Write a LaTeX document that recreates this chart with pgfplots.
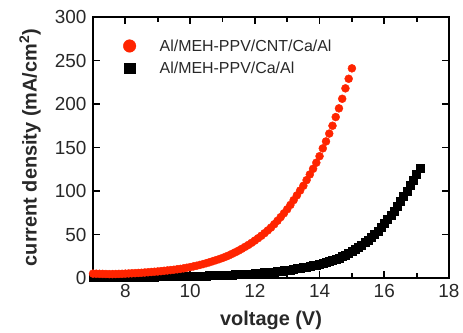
\documentclass[border=0pt]{standalone}
\usepackage{pgfplots}
\pgfplotsset{compat=1.18}
\usepackage{pgfplotstable}
\usepackage{fontspec}
\setmainfont{Liberation Sans}
\definecolor{myred}{RGB}{255,36,0}
\definecolor{txt}{RGB}{40,40,40}
\pgfplotstableread{
x y
7.0 5
7.1 4.9
7.2 4.8
7.3 4.7
7.4 4.6
7.5 4.5
7.6 4.5
7.7 4.6
7.8 4.7
7.9 4.8
8.0 5.0
8.1 5.2
8.2 5.4
8.3 5.6
8.4 5.8
8.5 6.0
8.6 6.3
8.7 6.6
8.8 6.9
8.9 7.2
9.0 7.5
9.1 7.9
9.2 8.3
9.3 8.7
9.4 9.1
9.5 9.5
9.6 10.0
9.7 10.5
9.8 11.1
9.9 11.8
10.0 12.5
10.1 13.3
10.2 14.1
10.3 15.0
10.4 16.0
10.5 17.0
10.6 18.1
10.7 19.3
10.8 20.5
10.9 21.7
11.0 23.0
11.1 24.5
11.2 26.0
11.3 27.8
11.4 29.6
11.5 31.5
11.6 33.6
11.7 35.8
11.8 38.0
11.9 40.4
12.0 43.0
12.1 45.7
12.2 48.5
12.3 51.5
12.4 54.7
12.5 58.0
12.6 61.8
12.7 65.8
12.8 70.0
12.9 74.4
13.0 79.0
13.1 84.0
13.2 89.5
13.3 95.0
13.4 100.5
13.5 106.0
13.6 112.5
13.7 119.0
13.8 125.5
13.9 132.5
14.0 140.0
14.1 149
14.2 157
14.3 166
14.4 175
14.5 185
14.6 195
14.7 206
14.8 218
14.9 229
15.0 241
}\redtable
\pgfplotstableread{
x y
7.0 0.5
7.1 0.5
7.2 0.6
7.3 0.6
7.4 0.7
7.5 0.7
7.6 0.8
7.7 0.8
7.8 0.9
7.9 0.9
8.0 1.0
8.1 1.0
8.2 1.1
8.3 1.1
8.4 1.2
8.5 1.2
8.6 1.3
8.7 1.3
8.8 1.4
8.9 1.4
9.0 1.5
9.1 1.5
9.2 1.6
9.3 1.6
9.4 1.7
9.5 1.8
9.6 1.8
9.7 1.9
9.8 2.0
9.9 2.0
10.0 2.1
10.1 2.2
10.2 2.3
10.3 2.4
10.4 2.5
10.5 2.6
10.6 2.7
10.7 2.8
10.8 2.9
10.9 3.0
11.0 3.2
11.1 3.4
11.2 3.6
11.3 3.7
11.4 3.9
11.5 4.1
11.6 4.3
11.7 4.5
11.8 4.7
11.9 4.9
12.0 5.2
12.1 5.5
12.2 5.8
12.3 6.1
12.4 6.4
12.5 6.8
12.6 7.2
12.7 7.6
12.8 8.0
12.9 8.5
13.0 9.0
13.1 9.5
13.2 10.1
13.3 10.7
13.4 11.3
13.5 12.0
13.6 12.7
13.7 13.5
13.8 14.3
13.9 15.2
14.0 16.2
14.1 17.2
14.2 18.2
14.3 19.3
14.4 20.5
14.5 21.8
14.6 23.2
14.7 24.8
14.8 26.6
14.9 28.6
15.0 30.8
15.1 33.1
15.2 35.5
15.3 38.0
15.4 40.6
15.5 43.4
15.6 46.5
15.7 49.8
15.8 53.4
15.9 58.0
16.0 63.0
16.1 67.5
16.2 72.0
16.3 77.0
16.4 82.3
16.5 88.0
16.6 94.0
16.7 100.0
16.8 106.3
16.9 112.6
17.0 119.0
17.1 126.0
}\blacktable
\begin{document}
\begin{tikzpicture}
\useasboundingbox (-93bp,-55bp) rectangle (370bp,278bp);
\begin{axis}[
  at={(0,0)}, anchor=south west,
  scale only axis, width=356bp, height=261bp,
  xmin=7, xmax=18, ymin=0, ymax=300,
  xtick={8,10,...,18}, minor xtick={9,11,...,17},
  ytick={0,50,...,300},
  tick align=inside,
  major tick length=7bp, minor tick length=5bp,
  every tick/.style={black, line width=1.8bp},
  axis line style={black, line width=2.6bp},
  /pgf/number format/assume math mode=true,
  tick label style={font=\fontsize{19}{22}\selectfont, text=txt},
  xticklabel style={yshift=-3bp},
  yticklabel style={xshift=-3bp},
  xlabel={\textbf{voltage (V)}},
  ylabel={\textbf{current density (mA/cm$^{\mathbf{2}}$)}},
  label style={font=\fontsize{20}{23}\selectfont, text=txt},
  xlabel style={at={(axis description cs:0.5,-0.161)}, anchor=center},
  ylabel style={at={(axis description cs:-0.177,0.5)}, anchor=center},
  legend image code/.code={\path (0cm,0cm) -- (1.29cm,0cm); \draw[#1] plot coordinates {(0.3cm,0cm)};},
  legend style={at={(0.07,0.93)}, anchor=north west, draw=none, fill=none,
    font=\fontsize{16}{19}\selectfont, text=txt, row sep=5bp},
  legend cell align=left,
]
\addlegendimage{mark=*, draw=none, myred, mark size=6.3bp}
\addlegendentry{Al/MEH-PPV/CNT/Ca/Al}
\addlegendimage{mark=square*, draw=none, black, mark size=5.3bp}
\addlegendentry{Al/MEH-PPV/Ca/Al}
\addplot[only marks, mark=square*, mark size=4bp, black, forget plot] table[x=x,y=y] {\blacktable};
\addplot[only marks, mark=*, mark size=4bp, myred, forget plot] table[x=x,y=y] {\redtable};
\end{axis}
\end{tikzpicture}
\end{document}
